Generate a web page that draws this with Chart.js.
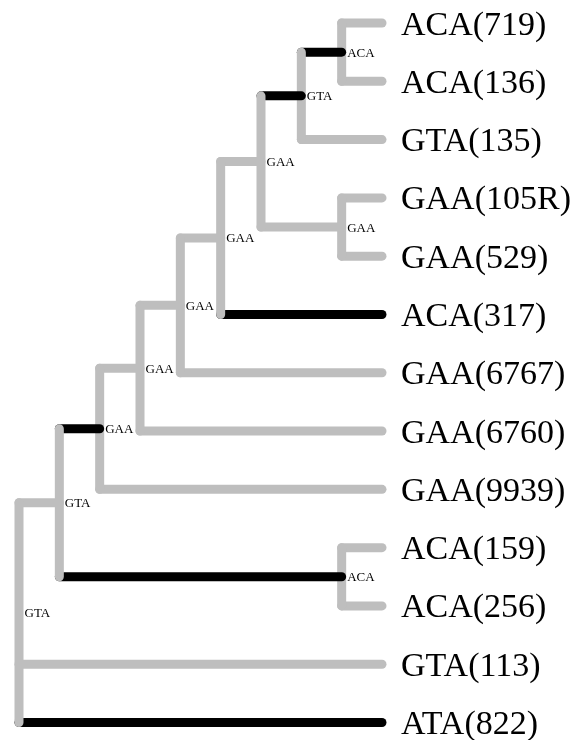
<!DOCTYPE html>
<html>
<head>
<meta charset="utf-8">
<script src="https://cdn.jsdelivr.net/npm/chart.js@4"></script>
<style>
  html, body { margin: 0; background: #fff; }
  #wrap { width: 576px; height: 740px; }
</style>
</head>
<body>
<div id="wrap"><canvas id="tree"></canvas></div>
<script>
// tips, top to bottom
const tips = ['ACA(719)', 'ACA(136)', 'GTA(135)', 'GAA(105R)', 'GAA(529)', 'ACA(317)',
  'GAA(6767)', 'GAA(6760)', 'GAA(9939)', 'ACA(159)', 'ACA(256)', 'GTA(113)', 'ATA(822)'];
const tipDepth = 9;

// internal nodes with their reconstructed state and depth
const nodes = ['root', 'n1', 'n2', 'n3', 'n4', 'n5', 'n6', 'n7', 'n8', 'n9', 'n10'];
const nodeStates = ['GTA', 'GTA', 'GAA', 'GAA', 'GAA', 'GAA', 'GAA', 'GTA', 'ACA', 'GAA', 'ACA'];
const nodeDepth = [0, 1, 2, 3, 4, 5, 6, 7, 8, 8, 8];

// [parent, child, state changed on branch]
const edges = [
  ['root', 'n1', 0], ['root', 'GTA(113)', 0], ['root', 'ATA(822)', 1],
  ['n1', 'n2', 1], ['n1', 'n10', 1],
  ['n2', 'n3', 0], ['n2', 'GAA(9939)', 0],
  ['n3', 'n4', 0], ['n3', 'GAA(6760)', 0],
  ['n4', 'n5', 0], ['n4', 'GAA(6767)', 0],
  ['n5', 'n6', 0], ['n5', 'ACA(317)', 1],
  ['n6', 'n7', 1], ['n6', 'n9', 0],
  ['n7', 'n8', 1], ['n7', 'GTA(135)', 0],
  ['n8', 'ACA(719)', 0], ['n8', 'ACA(136)', 0],
  ['n9', 'GAA(105R)', 0], ['n9', 'GAA(529)', 0],
  ['n10', 'ACA(159)', 0], ['n10', 'ACA(256)', 0]
];

const GREY = '#bebebe';
const BLACK = '#000000';

// layout: tips at their row, inner nodes halfway between outer children
const pos = {};
tips.forEach((t, i) => { pos[t] = { x: tipDepth, y: i }; });
function place(n) {
  if (pos[n]) return pos[n];
  const ys = edges.filter(e => e[0] === n).map(e => place(e[1]).y);
  const top = Math.min(...ys), bottom = Math.max(...ys);
  pos[n] = { x: nodeDepth[nodes.indexOf(n)], y: (top + bottom) / 2, top, bottom };
  return pos[n];
}
place('root');

// segments in drawing order (later ones on top)
const segs = [];
function walk(n) {
  const kids = edges.filter(e => e[0] === n);
  kids.forEach(e => { if (nodes.includes(e[1])) walk(e[1]); });
  kids.forEach(e => {
    const c = pos[e[1]];
    segs.push({ pts: [{ x: pos[n].x, y: c.y }, { x: c.x, y: c.y }], color: e[2] ? BLACK : GREY });
  });
  segs.push({ pts: [{ x: pos[n].x, y: pos[n].top }, { x: pos[n].x, y: pos[n].bottom }], color: GREY });
}
walk('root');

const datasets = segs.map((s, i) => ({
  data: s.pts,
  showLine: true,
  borderColor: s.color,
  borderWidth: 9,
  borderCapStyle: 'round',
  borderJoinStyle: 'round',
  pointRadius: 0,
  clip: false,
  order: segs.length - i
}));

const labelPlugin = {
  id: 'treeLabels',
  afterDatasetsDraw(chart) {
    const { ctx, scales: { x, y } } = chart;
    ctx.save();
    ctx.fillStyle = '#000';
    ctx.textAlign = 'left';
    ctx.textBaseline = 'alphabetic';
    ctx.font = '34px "Liberation Serif"';
    tips.forEach(t => {
      ctx.fillText(t, x.getPixelForValue(pos[t].x) + 19, y.getPixelForValue(pos[t].y) + 11.5);
    });
    ctx.font = '13px "Liberation Serif"';
    nodes.forEach((n, i) => {
      ctx.fillText(nodeStates[i], x.getPixelForValue(pos[n].x) + 5.5, y.getPixelForValue(pos[n].y) + 4.5);
    });
    ctx.restore();
  }
};

const ctx = document.getElementById('tree').getContext('2d');
new Chart(ctx, {
  type: 'scatter',
  data: { datasets },
  options: {
    responsive: true,
    maintainAspectRatio: false,
    animation: false,
    layout: { padding: { left: 19, right: 194, top: 23, bottom: 17.5 } },
    scales: {
      x: { type: 'linear', min: 0, max: tipDepth, display: false },
      y: { type: 'linear', min: 0, max: tips.length - 1, reverse: true, display: false }
    },
    plugins: { legend: { display: false }, tooltip: { enabled: false } }
  },
  plugins: [labelPlugin]
});
</script>
</body>
</html>
